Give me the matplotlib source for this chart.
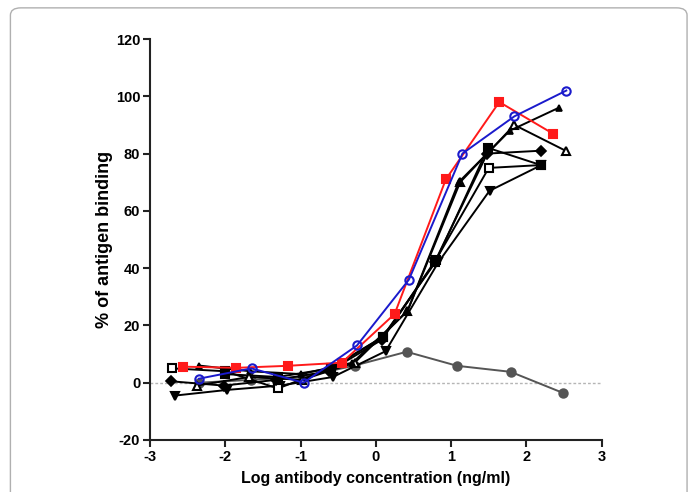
import matplotlib
matplotlib.use("Agg")
import matplotlib.pyplot as plt
from matplotlib.patches import FancyBboxPatch

plt.rcParams['font.family'] = ['Liberation Sans', 'DejaVu Sans']
plt.rcParams['font.weight'] = 'bold'

# log antibody concentration (ng/ml) and % of antigen binding per curve
red_x = [-2.56, -1.85, -1.17, -0.45, 0.25, 0.93, 1.64, 2.35]
red_y = [5.6, 5.2, 5.9, 7.0, 24, 71, 98, 87]

blue_x = [-2.35, -1.65, -0.96, -0.25, 0.44, 1.15, 1.84, 2.53]
blue_y = [1.4, 5.0, 0.0, 13, 36, 80, 93, 102]

diam_x = [-2.72, -2.02, -1.32, -0.62, 0.08, 0.78, 1.48, 2.19]
diam_y = [0.5, -1.0, 1.0, 4.0, 15, 42, 80, 81]

osq_x = [-2.70, -2.00, -1.30, -0.60, 0.10, 0.80, 1.50, 2.20]
osq_y = [5.0, 4.0, -2.0, 5.0, 16, 43, 75, 76]

fsq_x = [-2.00, -1.30, -0.60, 0.09, 0.79, 1.49, 2.19]
fsq_y = [3.0, 2.0, 5.0, 16, 42, 82, 76]

tri_x = [-2.35, -1.67, -0.99, -0.31, 0.42, 1.10, 1.78, 2.43]
tri_y = [6.0, 4.0, 3.0, 7.0, 25, 70, 88, 96]

otri_x = [-2.38, -1.68, -0.98, -0.28, 0.42, 1.12, 1.84, 2.52]
otri_y = [-1.0, 2.0, 1.0, 7.0, 25, 70, 90, 81]

dtri_x = [-2.67, -1.97, -1.27, -0.57, 0.13, 0.83, 1.51, 2.20]
dtri_y = [-4.5, -2.5, -1.0, 2.0, 11, 42, 67, 76]

gray_x = [-2.35, -1.66, -0.97, -0.28, 0.41, 1.08, 1.79, 2.48]
gray_y = [0.0, 1.0, 2.0, 6.0, 10.8, 5.9, 3.8, -3.5]

x_ticks = [-3, -2, -1, 0, 1, 2, 3]
y_ticks = [-20, 0, 20, 40, 60, 80, 100, 120]

fig = plt.figure(figsize=(6.94, 4.92), dpi=100)
ax = fig.add_axes([0.216, 0.1057, 0.651, 0.815])

# rounded frame around the whole figure
frame = FancyBboxPatch((0.015, -0.05), 0.975, 1.034, boxstyle="round,pad=0,rounding_size=0.015",
                       transform=fig.transFigure, fill=False, ec='#b0b0b0', lw=1.0)
fig.patches.append(frame)

ax.axhline(0, color='#b5b5b5', lw=1.0, ls=(0, (2, 1.5)), zorder=1)

kw = dict(lw=1.4, ms=6, mew=1.5)
ax.plot(gray_x, gray_y, color='#555555', marker='o', **kw, zorder=2)
ax.plot(dtri_x, dtri_y, color='black', marker='v', **kw, zorder=3)
ax.plot(osq_x, osq_y, color='black', marker='s', mfc='white', **kw, zorder=3)
ax.plot(fsq_x, fsq_y, color='black', marker='s', **kw, zorder=3)
ax.plot(diam_x, diam_y, color='black', marker='D', lw=1.4, ms=5, mew=1.2, zorder=3)
ax.plot(otri_x, otri_y, color='black', marker='^', mfc='white', **kw, zorder=3)
ax.plot(tri_x, tri_y, color='black', marker='^', lw=1.4, ms=5, mew=1.2, zorder=3)
ax.plot(red_x, red_y, color='#ff1a1a', marker='s', **kw, zorder=4)
ax.plot(blue_x, blue_y, color='#1a1acc', marker='o', mfc='none', **kw, zorder=5)

ax.set_xlim(-3, 3)
ax.set_ylim(-20, 120)
ax.set_xticks(x_ticks)
ax.set_yticks(y_ticks)
ax.set_xticklabels([str(v) for v in x_ticks], fontsize=10.5, fontweight='bold')
ax.set_yticklabels([str(v) for v in y_ticks], fontsize=10.5, fontweight='bold')
ax.tick_params(direction='out', length=5, width=1.5, color='#222222', pad=2)

for s in ['top', 'right']:
    ax.spines[s].set_visible(False)
for s in ['left', 'bottom']:
    ax.spines[s].set_linewidth(1.5)
    ax.spines[s].set_color('#222222')

ax.set_xlabel('Log antibody concentration (ng/ml)', fontsize=11.5, fontweight='bold', labelpad=5)
ax.set_ylabel('% of antigen binding', fontsize=13, fontweight='bold', labelpad=2)

fig.savefig('out.png', dpi=100)
